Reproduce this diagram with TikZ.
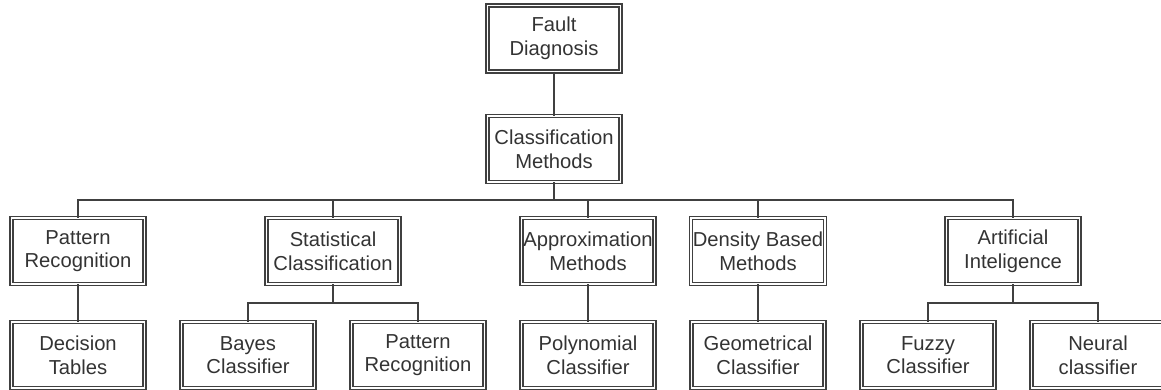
\documentclass[tikz,border=0pt]{standalone}
\usepackage{fontspec}
\setmainfont{Liberation Sans}
\usetikzlibrary{positioning,calc}
\definecolor{linegray}{rgb}{.25,.25,.25}
\definecolor{textgray}{rgb}{.2,.2,.2}

\begin{document}
\begin{tikzpicture}[% styles for every box of the tree
					box/.style={
						rectangle,
						draw=linegray,
						line width=0.7pt,
						double=white,
						double distance=1.1pt,
						align=center,		% so that "\\" breaks the line
						minimum width=2.66cm,
						minimum height=1.32cm,
						inner sep=1pt,
						outer sep=0pt,
						text=textgray,
						font=\fontsize{11.5}{13.4}\selectfont
						},
					link/.style={draw=linegray,line width=1pt},
					node distance=0.74cm
					]
\useasboundingbox (0,0) rectangle (23.22,-7.78);
% bottom row
\node[box](dectab) at (1.56,-7.10){Decision\\Tables};
\node[box](bayes)[right= of dectab]{Bayes\\Classifier};
\node[box](patrecb)[right= of bayes]{Pattern\\Recognition};
\node[box](polyn)[right= of patrecb]{Polynomial\\Classifier};
\node[box](geom)[right= of polyn]{Geometrical\\Classifier};
\node[box](fuzzy)[right= of geom]{Fuzzy\\Classifier};
\node[box](neural)[right= of fuzzy]{Neural\\classifier};
% middle row
\coordinate (m1) at ($(bayes.north)!0.5!(patrecb.north)$);
\coordinate (m2) at ($(fuzzy.north)!0.5!(neural.north)$);
\node[box](patrec)[above=0.76cm of dectab]{Pattern\\Recognition};
\node[box](statcl)[above=0.76cm of m1]{Statistical\\Classification};
\node[box](approx)[above=0.76cm of polyn]{Approximation\\Methods};
\node[box](densb)[above=0.76cm of geom]{Density Based\\Methods};
\node[box](artint)[above=0.76cm of m2]{Artificial\\Inteligence};
% top
\node[box](classm)[above=0.72cm of approx,xshift=-0.68cm]{Classification\\Methods};
\node[box](fault)[above=0.89cm of classm]{Fault\\Diagnosis};
% connectors
\coordinate (bar0) at ($(classm.south)!0.5!(classm.south |- approx.north)$);
\coordinate (bar1) at ($(statcl.south)!0.5!(statcl.south |- bayes.north)$);
\coordinate (bar2) at ($(artint.south)!0.5!(artint.south |- fuzzy.north)$);
\path[link] (fault) -- (classm);
\foreach \n in {patrec,statcl,approx,densb,artint}
	\path[link] (classm.south) |- (bar0 -| \n) -- (\n.north);
\foreach \n in {bayes,patrecb}
	\path[link] (statcl.south) |- (bar1 -| \n) -- (\n.north);
\foreach \n in {fuzzy,neural}
	\path[link] (artint.south) |- (bar2 -| \n) -- (\n.north);
\path[link] (patrec) -- (dectab);
\path[link] (approx) -- (polyn);
\path[link] (densb) -- (geom);
\end{tikzpicture}
\end{document}
